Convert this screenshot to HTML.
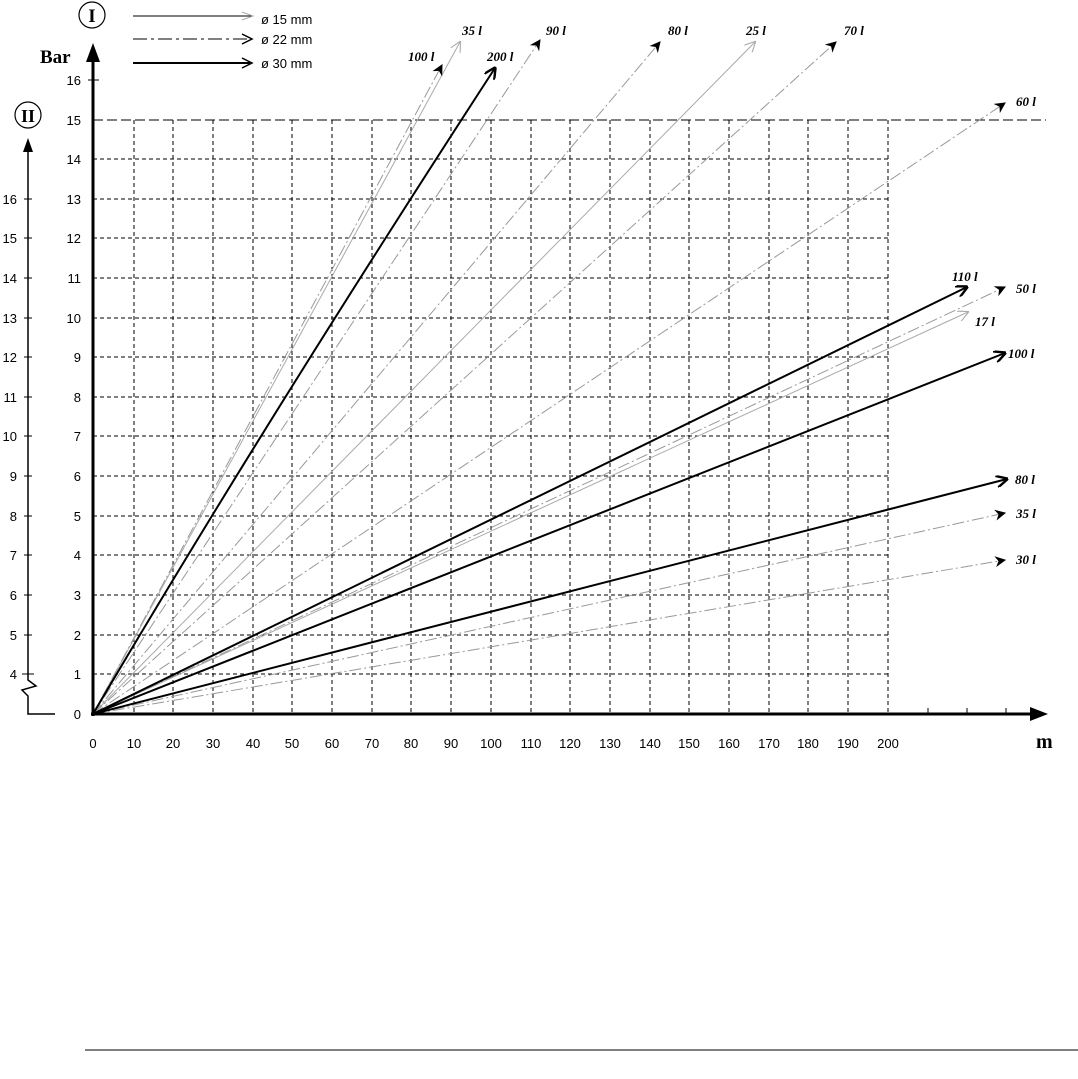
<!DOCTYPE html>
<html><head><meta charset="utf-8"><style>
html,body{margin:0;padding:0;background:#fff;}
svg{display:block}
.t{font-family:"Liberation Sans",sans-serif;font-size:13px;fill:#000}
.l{font-family:"Liberation Serif",serif;font-size:13px;font-weight:bold;font-style:italic;fill:#000}
</style></head><body>
<svg width="1078" height="1079" viewBox="0 0 1078 1079" xmlns="http://www.w3.org/2000/svg">
<defs>
<marker id="open" viewBox="0 0 10 10" refX="9" refY="5" markerWidth="11" markerHeight="11" markerUnits="userSpaceOnUse" orient="auto"><path d="M0,0 L10,5 L0,10" fill="none" stroke="#aaa" stroke-width="1"/></marker>
<marker id="dd" viewBox="0 0 10 10" refX="9" refY="5" markerWidth="11" markerHeight="11" markerUnits="userSpaceOnUse" orient="auto"><path d="M0,0 L10,5 L0,10 L3,5 Z" fill="#000"/></marker>
<marker id="thick" viewBox="0 0 10 10" refX="9" refY="5" markerWidth="12" markerHeight="12" markerUnits="userSpaceOnUse" orient="auto"><path d="M0,0 L10,5 L0,10" fill="none" stroke="#000" stroke-width="2"/></marker>
</defs>
<g stroke="#000" stroke-width="1" stroke-dasharray="4,3">
<line x1="134" y1="120" x2="134" y2="714"/><line x1="173" y1="120" x2="173" y2="714"/><line x1="213" y1="120" x2="213" y2="714"/><line x1="253" y1="120" x2="253" y2="714"/><line x1="292" y1="120" x2="292" y2="714"/><line x1="332" y1="120" x2="332" y2="714"/><line x1="372" y1="120" x2="372" y2="714"/><line x1="411" y1="120" x2="411" y2="714"/><line x1="451" y1="120" x2="451" y2="714"/><line x1="491" y1="120" x2="491" y2="714"/><line x1="531" y1="120" x2="531" y2="714"/><line x1="570" y1="120" x2="570" y2="714"/><line x1="610" y1="120" x2="610" y2="714"/><line x1="650" y1="120" x2="650" y2="714"/><line x1="689" y1="120" x2="689" y2="714"/><line x1="729" y1="120" x2="729" y2="714"/><line x1="769" y1="120" x2="769" y2="714"/><line x1="808" y1="120" x2="808" y2="714"/><line x1="848" y1="120" x2="848" y2="714"/><line x1="888" y1="120" x2="888" y2="714"/>
<line x1="93" y1="674" x2="888" y2="674"/><line x1="93" y1="635" x2="888" y2="635"/><line x1="93" y1="595" x2="888" y2="595"/><line x1="93" y1="555" x2="888" y2="555"/><line x1="93" y1="516" x2="888" y2="516"/><line x1="93" y1="476" x2="888" y2="476"/><line x1="93" y1="436" x2="888" y2="436"/><line x1="93" y1="397" x2="888" y2="397"/><line x1="93" y1="357" x2="888" y2="357"/><line x1="93" y1="318" x2="888" y2="318"/><line x1="93" y1="278" x2="888" y2="278"/><line x1="93" y1="238" x2="888" y2="238"/><line x1="93" y1="199" x2="888" y2="199"/><line x1="93" y1="159" x2="888" y2="159"/>
</g>
<line x1="93" y1="120" x2="1046" y2="120" stroke="#000" stroke-width="1" stroke-dasharray="10,4"/>
<g stroke="#aaa" stroke-width="1" fill="none" marker-end="url(#open)">
<line x1="93" y1="714" x2="460" y2="42"/>
<line x1="93" y1="714" x2="755" y2="42"/>
<line x1="93" y1="714" x2="968" y2="312"/>
</g>
<g stroke="#999" stroke-width="1" fill="none" stroke-dasharray="12,3,2,3" marker-end="url(#dd)">
<line x1="93" y1="714" x2="442" y2="65"/>
<line x1="93" y1="714" x2="540" y2="40"/>
<line x1="93" y1="714" x2="660" y2="42"/>
<line x1="93" y1="714" x2="836" y2="42"/>
<line x1="93" y1="714" x2="1005" y2="103"/>
<line x1="93" y1="714" x2="1005" y2="287"/>
<line x1="93" y1="714" x2="1005" y2="513"/>
<line x1="93" y1="714" x2="1005" y2="560"/>
</g>
<g stroke="#000" stroke-width="2" fill="none" marker-end="url(#thick)">
<path d="M93,714 Q260,430 495,68"/>
<line x1="93" y1="714" x2="967" y2="287"/>
<line x1="93" y1="714" x2="1005" y2="353"/>
<line x1="93" y1="714" x2="1007" y2="479"/>
</g>
<line x1="93" y1="716" x2="93" y2="60" stroke="#000" stroke-width="3"/>
<polygon points="86,62 100,62 93,43" fill="#000"/>
<line x1="91" y1="714" x2="1032" y2="714" stroke="#000" stroke-width="3"/>
<polygon points="1030,707 1030,721 1048,714" fill="#000"/>
<g stroke="#000" stroke-width="1">
<line x1="88" y1="80" x2="99" y2="80"/>
<line x1="928" y1="708" x2="928" y2="714"/><line x1="967" y1="708" x2="967" y2="714"/><line x1="1006" y1="708" x2="1006" y2="714"/>
</g>
<path d="M28,676 L28,680 L36,686 L22,690 L28,696 L28,714 L55,714" fill="none" stroke="#000" stroke-width="1.5"/>
<line x1="28" y1="676" x2="28" y2="152" stroke="#000" stroke-width="1.5"/>
<polygon points="23,152 33,152 28,138" fill="#000"/>
<g class="t" text-anchor="end">
<text x="17" y="679">4</text><text x="17" y="640">5</text><text x="17" y="600">6</text><text x="17" y="560">7</text><text x="17" y="521">8</text><text x="17" y="481">9</text><text x="17" y="441">10</text><text x="17" y="402">11</text><text x="17" y="362">12</text><text x="17" y="323">13</text><text x="17" y="283">14</text><text x="17" y="243">15</text><text x="17" y="204">16</text>
<text x="81" y="719">0</text><text x="81" y="679">1</text><text x="81" y="640">2</text><text x="81" y="600">3</text><text x="81" y="560">4</text><text x="81" y="521">5</text><text x="81" y="481">6</text><text x="81" y="441">7</text><text x="81" y="402">8</text><text x="81" y="362">9</text><text x="81" y="323">10</text><text x="81" y="283">11</text><text x="81" y="243">12</text><text x="81" y="204">13</text><text x="81" y="164">14</text><text x="81" y="125">15</text><text x="81" y="85">16</text>
</g>
<g stroke="#000" stroke-width="1"><line x1="22" y1="674" x2="34" y2="674"/><line x1="24" y1="635" x2="32" y2="635"/><line x1="24" y1="595" x2="32" y2="595"/><line x1="24" y1="555" x2="32" y2="555"/><line x1="24" y1="516" x2="32" y2="516"/><line x1="24" y1="476" x2="32" y2="476"/><line x1="24" y1="436" x2="32" y2="436"/><line x1="24" y1="397" x2="32" y2="397"/><line x1="24" y1="357" x2="32" y2="357"/><line x1="24" y1="318" x2="32" y2="318"/><line x1="24" y1="278" x2="32" y2="278"/><line x1="24" y1="238" x2="32" y2="238"/><line x1="24" y1="199" x2="32" y2="199"/></g>
<g class="t" text-anchor="middle">
<text x="93" y="748">0</text><text x="134" y="748">10</text><text x="173" y="748">20</text><text x="213" y="748">30</text><text x="253" y="748">40</text><text x="292" y="748">50</text><text x="332" y="748">60</text><text x="372" y="748">70</text><text x="411" y="748">80</text><text x="451" y="748">90</text><text x="491" y="748">100</text><text x="531" y="748">110</text><text x="570" y="748">120</text><text x="610" y="748">130</text><text x="650" y="748">140</text><text x="689" y="748">150</text><text x="729" y="748">160</text><text x="769" y="748">170</text><text x="808" y="748">180</text><text x="848" y="748">190</text><text x="888" y="748">200</text>
</g>
<text x="40" y="63" font-family="Liberation Serif,serif" font-size="19" font-weight="bold">Bar</text>
<text x="1036" y="748" font-family="Liberation Serif,serif" font-size="20" font-weight="bold">m</text>
<circle cx="92" cy="15" r="13" fill="none" stroke="#000" stroke-width="1.2"/>
<text x="92" y="22" text-anchor="middle" font-family="Liberation Serif,serif" font-size="19" font-weight="bold">I</text>
<circle cx="28" cy="115" r="13" fill="none" stroke="#000" stroke-width="1.2"/>
<text x="28" y="122" text-anchor="middle" font-family="Liberation Serif,serif" font-size="18" font-weight="bold">II</text>
<line x1="133" y1="16" x2="252" y2="16" stroke="#000" stroke-width="1"/>
<path d="M242,12 L253,16 L242,20" fill="none" stroke="#aaa"/>
<line x1="133" y1="39" x2="250" y2="39" stroke="#000" stroke-width="1" stroke-dasharray="14,4,3,4"/>
<path d="M242,34 L252,39 L242,44" fill="none" stroke="#000" stroke-width="1.5"/>
<line x1="133" y1="63" x2="250" y2="63" stroke="#000" stroke-width="2"/>
<path d="M242,58 L252,63 L242,68" fill="none" stroke="#000" stroke-width="1.5"/>
<text class="t" x="261" y="24">ø 15 mm</text>
<text class="t" x="261" y="44">ø 22 mm</text>
<text class="t" x="261" y="68">ø 30 mm</text>
<g class="l">
<text x="408" y="61">100 l</text><text x="462" y="35">35 l</text><text x="487" y="61">200 l</text><text x="546" y="35">90 l</text><text x="668" y="35">80 l</text><text x="746" y="35">25 l</text><text x="844" y="35">70 l</text><text x="1016" y="106">60 l</text>
<text x="952" y="281">110 l</text><text x="1016" y="293">50 l</text><text x="975" y="326">17 l</text><text x="1008" y="358">100 l</text><text x="1015" y="484">80 l</text><text x="1016" y="518">35 l</text><text x="1016" y="564">30 l</text>
</g>
<line x1="85" y1="1050" x2="1078" y2="1050" stroke="#000" stroke-width="1"/>
</svg>
</body></html>
